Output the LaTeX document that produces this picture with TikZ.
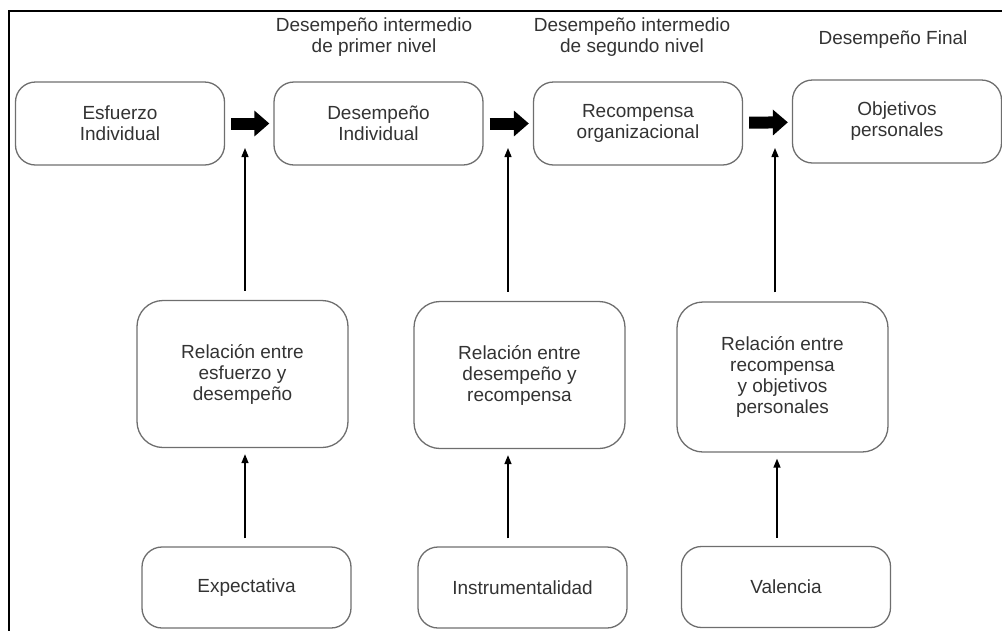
\documentclass[tikz,border=0pt]{standalone}
\usepackage{fontspec}
\setmainfont{Liberation Sans}
\usepackage{tikz}
\usetikzlibrary{arrows.meta, positioning}
\definecolor{boxline}{HTML}{6E6E6E}
\definecolor{boxtext}{HTML}{333333}
\newcommand{\diagfont}{\fontsize{19}{21}\selectfont}

\tikzset{
  topbox/.style={draw=boxline, line width=1.3pt, rounded corners=20pt,
    minimum width=209pt, minimum height=83pt, inner sep=0pt,
    align=center, text=boxtext, font=\diagfont},
  relbox/.style={topbox, rounded corners=26pt, minimum width=211pt,
    minimum height=147pt},
  srcbox/.style={topbox, minimum height=81pt},
  stagelabel/.style={align=center, text=boxtext, font=\diagfont},
  bigarrow/.style={line width=12pt, -{Triangle[length=15pt, width=25pt]},
    shorten <=6pt, shorten >=4pt},
  thinarrow/.style={line width=1.4pt, -{Triangle[length=9pt, width=7pt]}}
}

\begin{document}
\begin{tikzpicture}[x=1pt, y=-1pt]
  \useasboundingbox (0,0) rectangle (1002,630);
  \draw[line width=1.8pt] (9,632) -- (9,11) -- (1004,11);

  % stage titles
  \node[stagelabel] (lbl1) at (374,37) {Desempeño intermedio\\de primer nivel};
  \node[stagelabel] (lbl2) at (632,37) {Desempeño intermedio\\de segundo nivel};
  \node[stagelabel] (lbl3) at (893,40) {Desempeño Final};

  % main chain
  \node[topbox] (esfuerzo)   at (120,123.5)   {Esfuerzo\\Individual};
  \node[topbox] (desempeno)  at (378.5,123.5) {Desempeño\\Individual};
  \node[topbox] (recompensa) at (638,123.5)   {Recompensa\\organizacional};
  \node[topbox] (objetivos)  at (897,121.5)   {Objetivos\\personales};

  \draw[bigarrow] (esfuerzo)   -- (desempeno);
  \draw[bigarrow] (desempeno)  -- (recompensa);
  \draw[bigarrow] (recompensa) -- (objetivos);

  % relations
  \node[relbox] (rel1) at (242.5,374) {Relación entre\\esfuerzo y\\desempeño};
  \node[relbox] (rel2) at (519.5,375) {Relación entre\\desempeño y\\recompensa};
  \node[relbox, minimum height=150pt] (rel3) at (782.5,377)
    {Relación entre\\recompensa\\y objetivos\\personales};

  % factors
  \node[srcbox] (expectativa) at (246.5,587.5) {Expectativa};
  \node[srcbox] (instrument)  at (522.5,587.5) {Instrumentalidad};
  \node[srcbox] (valencia)    at (786,587)     {Valencia};

  \coordinate (g1) at (245,148);
  \coordinate (g2) at (508,148);
  \coordinate (g3) at (775,148);
  \coordinate (b1) at (245,0);
  \coordinate (b2) at (508,0);
  \coordinate (b3) at (777,0);

  \draw[thinarrow, shorten <=9pt] (rel1.north -| g1) -- (g1);
  \draw[thinarrow, shorten <=9pt] (rel2.north -| g2) -- (g2);
  \draw[thinarrow, shorten <=9pt] (rel3.north -| g3) -- (g3);

  \draw[thinarrow, shorten <=8pt, shorten >=6pt]
    (expectativa.north -| b1) -- (rel1.south -| b1);
  \draw[thinarrow, shorten <=8pt, shorten >=6pt]
    (instrument.north -| b2) -- (rel2.south -| b2);
  \draw[thinarrow, shorten <=8pt, shorten >=6pt]
    (valencia.north -| b3) -- (rel3.south -| b3);
\end{tikzpicture}
\end{document}
